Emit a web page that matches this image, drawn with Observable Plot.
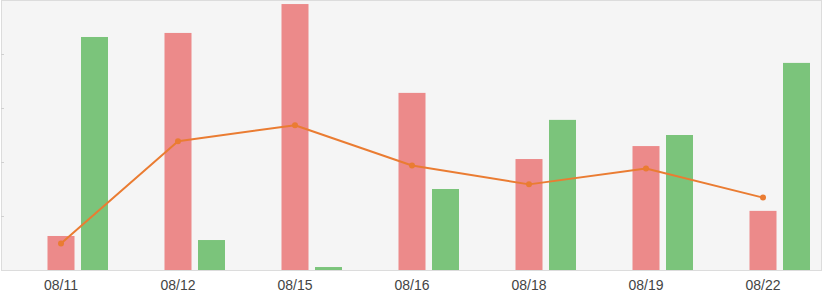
<!DOCTYPE html>
<html>
<head>
<meta charset="utf-8">
<script src="https://cdn.jsdelivr.net/npm/d3@7"></script>
<script src="https://cdn.jsdelivr.net/npm/@observablehq/plot@0.6"></script>
<style>
  html, body { margin: 0; padding: 0; background: #fff; }
  #chart svg { display: block; font-family: "Liberation Sans", Arial, sans-serif; }
</style>
</head>
<body>
<div id="chart"></div>
<script>
const dates = ["08/11", "08/12", "08/15", "08/16", "08/18", "08/19", "08/22"];
const seriesA = [12.6, 87.8, 98.5, 65.6, 41.1, 45.9, 21.9];
const seriesB = [86.3, 11.1, 1.1, 30.0, 55.6, 50.0, 76.7];
const lineValues = [10.0, 47.9, 53.8, 38.9, 31.9, 37.8, 27.0];
const yTicks = [20, 40, 60, 80];

const rowsA = dates.map((d, i) => ({date: d, value: seriesA[i]}));
const rowsB = dates.map((d, i) => ({date: d, value: seriesB[i]}));
const rowsL = dates.map((d, i) => ({date: d, value: lineValues[i]}));

const chart = Plot.plot({
  width: 823,
  height: 300,
  marginTop: 0,
  marginBottom: 30,
  marginLeft: 1,
  marginRight: 2,
  x: {type: "band", domain: dates, padding: 0, label: null},
  y: {domain: [0, 100], label: null},
  marks: [
    Plot.frame({fill: "#f5f5f5", stroke: "#dcdcdc"}),
    Plot.axisY({ticks: yTicks, tickSize: -3, stroke: "#d0d0d0", tickFormat: () => "", label: null}),
    Plot.barY(rowsA, {x: "date", y: "value", fill: "#ec8a8a", insetLeft: 45.5, insetRight: 44.5}),
    Plot.barY(rowsB, {x: "date", y: "value", fill: "#7bc47b", insetLeft: 79, insetRight: 11}),
    Plot.line(rowsL, {x: "date", y: "value", stroke: "#ea7c32", strokeWidth: 2}),
    Plot.dot(rowsL, {x: "date", y: "value", fill: "#ea7c32", r: 3}),
    Plot.axisX({tickSize: 0, tickPadding: 10, fontSize: 14, color: "#444", label: null}),
    Plot.ruleY([0], {stroke: "#dcdcdc"})
  ]
});
document.getElementById("chart").appendChild(chart);
</script>
</body>
</html>
